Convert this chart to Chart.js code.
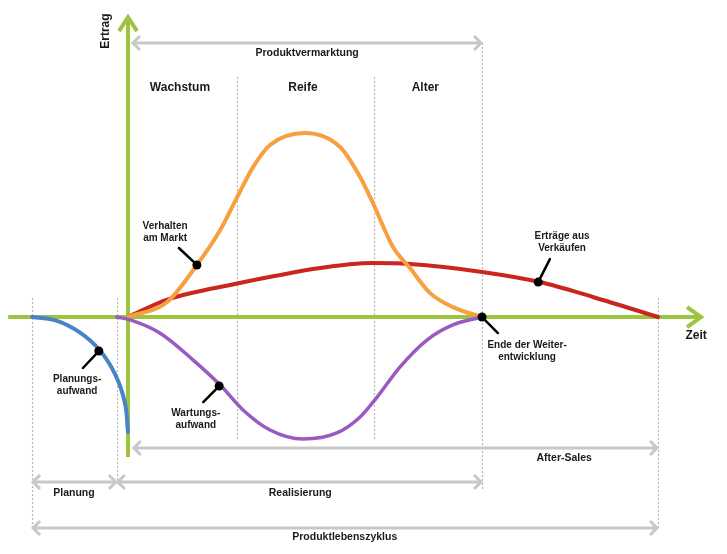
<!DOCTYPE html>
<html><head><meta charset="utf-8">
<script src="https://cdn.jsdelivr.net/npm/chart.js@4/dist/chart.umd.min.js"></script>
<style>html,body{margin:0;padding:0;background:#fff}#wrap{width:727px;height:554px;position:relative}</style>
</head><body><div id="wrap"><canvas id="c"></canvas></div>
<script>
// ---- Data (x = Zeit, 0 = Markteinführung, 100 = Ende Lebenszyklus; y = Ertrag, Peak = 100) ----
const marktX   = [0, 7.4, 13.0, 17.4, 20.6, 23.6, 26.8, 33.4, 40.0, 43.8, 46.2, 50.0, 53.2, 57.0, 61.3, 66.8];
const marktY   = [0, 8.2, 28.3, 47.3, 65.2, 81.5, 93.5, 100, 92.4, 76.1, 62.0, 38.0, 26.6, 13.0, 5.4, 0];
const ertragX  = [0, 7.4, 20.6, 28.1, 34.3, 46.2, 53.2, 66.8, 77.7, 87.7, 100];
const ertragY  = [0, 9.5, 18.2, 22.5, 25.8, 29.3, 28.8, 24.5, 19.0, 10.9, 0];
const wartungX = [-2.1, 0.4, 6.0, 12.3, 17.4, 21.7, 26.8, 33.0, 39.4, 43.8, 47.0, 51.3, 56.4, 61.3, 66.8];
const wartungY = [0, -1.6, -8.7, -23.4, -37.0, -50.5, -61.4, -66.3, -63.0, -54.3, -43.5, -27.2, -12.5, -4.3, 0];
const planungX = [-18.1, -13.4, -9.1, -5.3, -2.4, -0.6, 0];
const planungY = [0, -2.1, -8.4, -18.2, -31.3, -46.4, -62.5];
// Phasen
const phaseLabels = ['Wachstum', 'Reife', 'Alter'];
const phaseBounds = [0, 20.6, 46.4, 66.8];
// Callouts
const calloutTexts = [['Verhalten','am Markt'], ['Planungs-','aufwand'], ['Wartungs-','aufwand'], ['Erträge aus','Verkäufen'], ['Ende der Weiter-','entwicklung']];
const calloutDotX  = [13.0, -5.5, 17.2, 77.4, 66.8];
const calloutDotY  = [28.3, -18.5, -37.5, 19.0, 0];

// ---- Layout in data units ----
const calloutEnd   = [[9.6,37.5],[-8.5,-27.7],[14.2,-46.2],[79.6,31.5],[69.8,-8.7]];
const calloutText  = [[7.0,49.5],[-9.6,-33.7],[12.8,-52.2],[81.9,44.0],[75.3,-15.2]];
const phaseTextY = 124.5;
const dashed = [[-18.1,10.3,-115.8],[-2.1,10.3,-90.8],[20.6,130.4,-66.8],[46.4,130.4,-66.8],[66.8,148.9,-94],[100,10.3,-115.8]];
const dims = [
  {x1:0.75, x2:66.8, y:148.9, label:'Produktvermarktung', lx:33.8, ly:143.5},
  {x1:0.9,  x2:100,  y:-71.2, label:'After-Sales', lx:82.3, ly:-76.6},
  {x1:-18.1,x2:-2.1, y:-89.7, label:'Planung', lx:-10.2, ly:-95.7},
  {x1:-2.1, x2:66.8, y:-89.7, label:'Realisierung', lx:32.5, ly:-95.7},
  {x1:-18.1,x2:100,  y:-114.7,label:'Produktlebenszyklus', lx:40.9, ly:-119.6}
];

const pts = (xs, ys) => xs.map((x, i) => ({x, y: ys[i]}));
const FONT = '"Liberation Sans", Arial, sans-serif';

const deco = {
  id: 'deco',
  beforeDatasetsDraw(chart) {
    const c = chart.ctx, X = v => chart.scales.x.getPixelForValue(v), Y = v => chart.scales.y.getPixelForValue(v);
    c.save();
    c.strokeStyle = '#b5b5b5'; c.lineWidth = 1.2; c.setLineDash([2, 2]);
    dashed.forEach(d => { c.beginPath(); c.moveTo(Math.round(X(d[0]))+0.5, Y(d[1])); c.lineTo(Math.round(X(d[0]))+0.5, Y(d[2])); c.stroke(); });
    c.setLineDash([]);
    c.strokeStyle = '#c8c8c8'; c.lineWidth = 3; c.lineCap = 'butt'; c.lineJoin = 'miter';
    dims.forEach(d => {
      const a = X(d.x1), b = X(d.x2), y = Y(d.y);
      c.beginPath(); c.moveTo(a + 1, y); c.lineTo(b - 1, y); c.stroke();
      c.beginPath(); c.moveTo(a + 8, y - 7); c.lineTo(a + 1, y); c.lineTo(a + 8, y + 7); c.stroke();
      c.beginPath(); c.moveTo(b - 8, y - 7); c.lineTo(b - 1, y); c.lineTo(b - 8, y + 7); c.stroke();
    });
    c.strokeStyle = '#9cc43f'; c.lineWidth = 4;
    const x0 = X(0), y0 = Y(0);
    c.beginPath(); c.moveTo(X(-22.6), y0); c.lineTo(X(108.5) - 2, y0); c.stroke();
    c.beginPath(); c.moveTo(X(108.5) - 16, y0 - 10); c.lineTo(X(108.5) - 2, y0); c.lineTo(X(108.5) - 16, y0 + 10); c.stroke();
    c.beginPath(); c.moveTo(x0, Y(-76.1)); c.lineTo(x0, Y(164.1) + 2); c.stroke();
    c.beginPath(); c.moveTo(x0 - 9, Y(164.1) + 16); c.lineTo(x0, Y(164.1) + 2); c.lineTo(x0 + 9, Y(164.1) + 16); c.stroke();
    c.strokeStyle = '#000'; c.lineWidth = 2.5; c.lineCap = 'round';
    calloutDotX.forEach((dx, i) => {
      c.beginPath(); c.moveTo(X(dx), Y(calloutDotY[i])); c.lineTo(X(calloutEnd[i][0]), Y(calloutEnd[i][1])); c.stroke();
    });
    c.restore();
  },
  afterDatasetsDraw(chart) {
    const c = chart.ctx, X = v => chart.scales.x.getPixelForValue(v), Y = v => chart.scales.y.getPixelForValue(v);
    c.save();
    c.fillStyle = '#1a1a1a'; c.textAlign = 'center'; c.textBaseline = 'middle';
    c.font = 'bold 12px ' + FONT;
    phaseLabels.forEach((t, i) => c.fillText(t, X((phaseBounds[i] + phaseBounds[i + 1]) / 2 - 0.5), Y(phaseTextY)));
    c.fillText('Zeit', X(107.2), Y(-10.3));
    c.save(); c.translate(X(-4.2), Y(155.4)); c.rotate(-Math.PI / 2); c.fillText('Ertrag', 0, 0); c.restore();
    c.font = 'bold 10.5px ' + FONT;
    dims.forEach(d => c.fillText(d.label, X(d.lx), Y(d.ly)));
    c.font = 'bold 10px ' + FONT;
    calloutTexts.forEach((lines, i) => {
      lines.forEach((t, k) => c.fillText(t, X(calloutText[i][0]), Y(calloutText[i][1]) + k * 12));
    });
    c.restore();
  }
};

const line = (label, data, color, w, mono) => Object.assign({label, data, showLine: true, borderColor: color, borderWidth: w, pointRadius: 0, fill: false, clip: false, borderCapStyle: 'round'},
  mono ? {cubicInterpolationMode: 'monotone'} : {tension: 0.4});

new Chart(document.getElementById('c'), {
  type: 'scatter',
  data: {
    datasets: [
      {label: 'Callouts', data: pts(calloutDotX, calloutDotY), pointRadius: 4.5, pointBackgroundColor: '#000', pointBorderWidth: 0, showLine: false, clip: false},
      line('Planungsaufwand', pts(planungX, planungY), '#4a82c8', 4, false),
      line('Wartungsaufwand', pts(wartungX, wartungY), '#9b59c2', 3.5, true),
      line('Verhalten am Markt', pts(marktX, marktY), '#f7a03f', 4, true),
      line('Erträge aus Verkäufen', pts(ertragX, ertragY), '#c8261e', 4, true)
    ]
  },
  options: {
    responsive: true, maintainAspectRatio: false, animation: false, events: [],
    layout: {padding: 0, autoPadding: false},
    plugins: {legend: {display: false}, tooltip: {enabled: false}},
    scales: {
      x: {type: 'linear', min: -24.15, max: 113.02, display: false},
      y: {type: 'linear', min: -128.8, max: 172.3, display: false}
    }
  },
  plugins: [deco]
});
</script></body></html>
